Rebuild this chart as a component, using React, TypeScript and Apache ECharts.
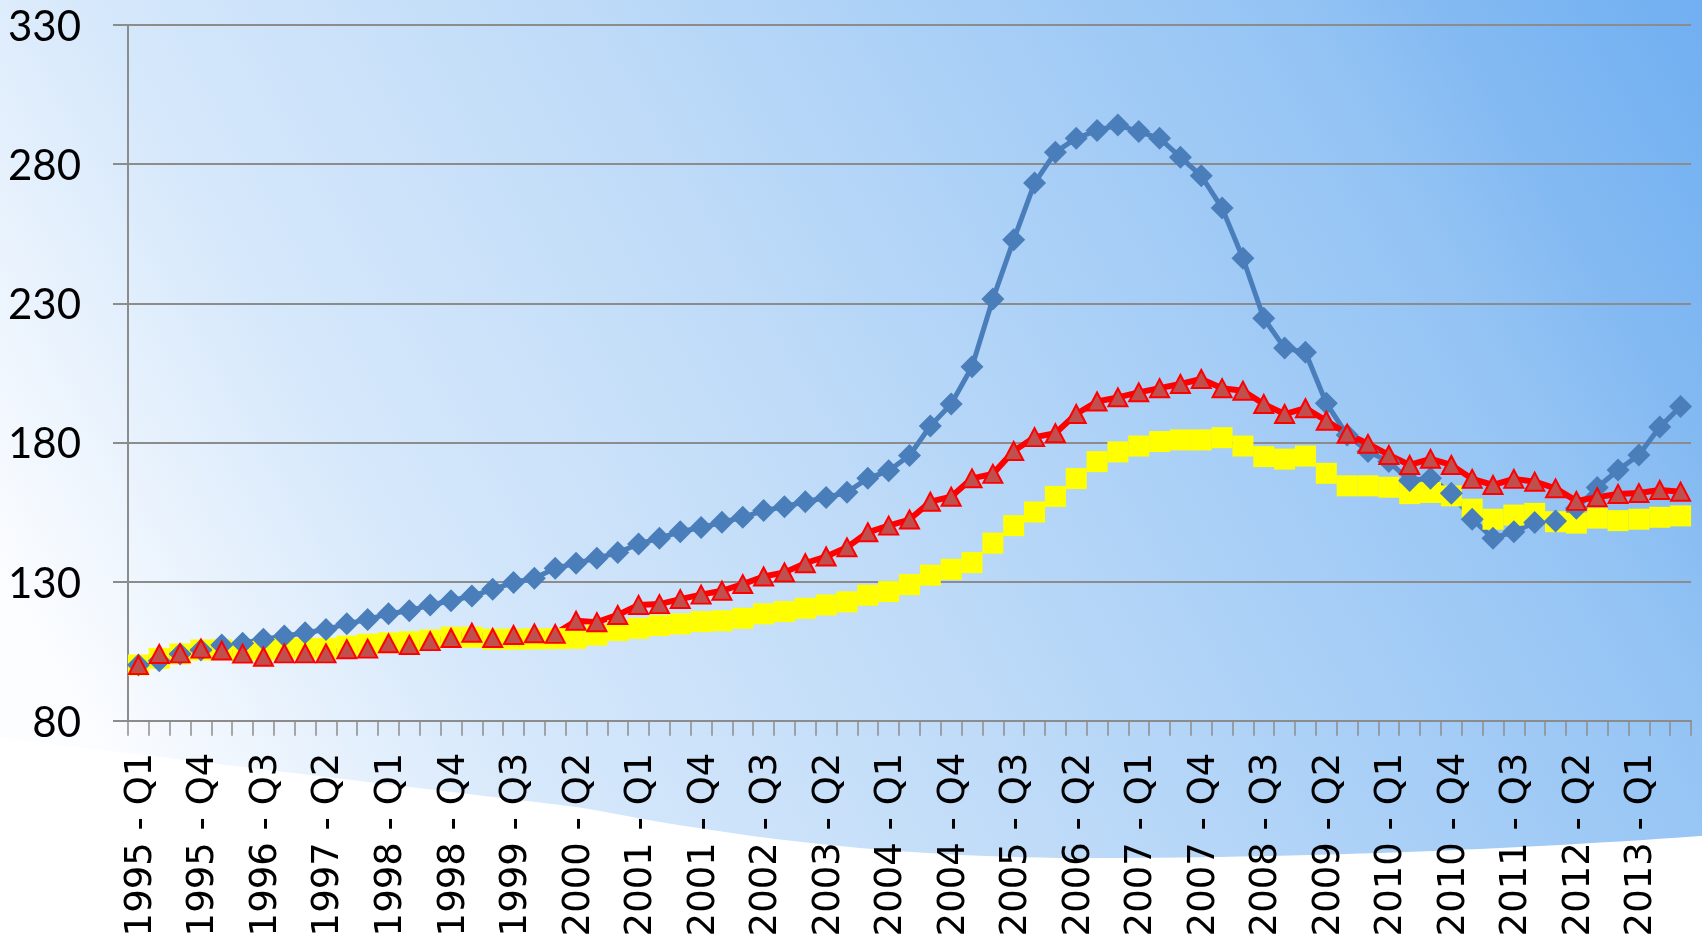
import React, { useEffect, useRef } from "react";
import * as echarts from "echarts";

const YEARS = [1995, 1996, 1997, 1998, 1999, 2000, 2001, 2002, 2003, 2004, 2005, 2006, 2007, 2008, 2009, 2010, 2011, 2012, 2013];
const QUARTERS = ["Q1", "Q2", "Q3", "Q4"];
const LAST_QUARTER_COUNT = 75; // 1995 - Q1 ... 2013 - Q3
const categories: string[] = YEARS.flatMap((y) => QUARTERS.map((q) => `${y} - ${q}`)).slice(0, LAST_QUARTER_COUNT);

// blue diamonds
const seriesBlue = [
  100, 101.5, 104, 105.4, 107.2, 107.8, 109.3, 110.4, 111.6, 112.8,
  114.8, 116.4, 118.4, 119.5, 121.6, 123.1, 124.8, 127.2, 129.7, 131.2,
  134.8, 136.6, 138.4, 140.4, 143.5, 145.6, 147.9, 149.4, 151.3, 153.1,
  155.5, 156.9, 158.7, 160.2, 162.1, 167.1, 169.8, 175.3, 185.9, 193.8,
  207.2, 231.5, 252.8, 273.2, 284.3, 289.3, 292.1, 294.1, 291.7, 289.3,
  282.5, 275.8, 264.2, 246.2, 224.6, 213.9, 212.4, 194.1, 182.7, 176.7,
  173.1, 166.3, 167.1, 161.7, 152.4, 145.6, 147.9, 151.2, 151.8, 156.3,
  163.8, 170.1, 175.5, 185.5, 192.9,
];

// red triangles
const seriesRed = [
  100, 104, 104.2, 105.9, 105.2, 104.1, 103, 104.2, 104.2, 104.2,
  105.7, 105.9, 107.8, 107.2, 108.6, 109.7, 111.6, 109.7, 110.8, 111.4,
  111.2, 115.9, 115.4, 118, 121.6, 121.9, 123.7, 125.3, 126.7, 129.1,
  131.8, 133.3, 136.6, 139, 142.3, 147.7, 150.1, 152.3, 158.7, 160.5,
  167.1, 168.7, 176.9, 181.9, 183.3, 190.2, 194.7, 196.2, 198, 199.5,
  201, 202.8, 199.5, 198.6, 193.8, 190.2, 192.3, 187.8, 183.1, 179.5,
  175.5, 171.9, 174.1, 171.9, 166.9, 164.7, 166.9, 165.9, 163.5, 159,
  160.3, 161.5, 161.8, 162.9, 162.3,
];

// yellow squares
const seriesYellow = [
  100, 102.4, 104, 105.4, 105.5, 104.8, 105.4, 106, 106, 106,
  106.8, 107.5, 108, 108.4, 109, 110, 110, 109.3, 109.3, 109.4,
  109.5, 109.6, 110.8, 112.4, 113.2, 114.2, 114.8, 115.6, 115.9, 116.8,
  118.4, 119.2, 120.4, 121.6, 122.7, 125.1, 126.4, 128.9, 132.3, 134.4,
  136.8, 143.8, 150.1, 155, 160.6, 167, 173.1, 176.6, 178.7, 180.3,
  180.9, 180.9, 181.7, 178.7, 174.9, 174, 175.1, 168.9, 164.4, 164.4,
  163.9, 161.6, 162, 160.8, 156, 152.4, 153.9, 154.5, 151.5, 151,
  152.8, 151.9, 152.4, 153.1, 153.6,
];

const Y_MIN = 80;
const Y_MAX = 330;
const Y_STEP = 50;

const W = 1702;
const H = 944;

function wavePoints(): number[][] {
  // decorative white swoosh at the bottom of the slide background
  const pts: number[][] = [];
  const lowX = 1085;
  const lowY = 858;
  const kL = 2.0e-4;
  const kR = 5.8e-5;
  const bendX = lowX - 500;
  const bendY = lowY - kL * 500 * 500;
  for (let x = -20; x <= W + 20; x += 20) {
    const d = x - lowX;
    let y: number;
    if (d >= 0) y = lowY - kR * d * d;
    else if (x >= bendX) y = lowY - kL * d * d;
    else y = bendY - 2 * kL * 500 * (bendX - x) * 0.6;
    pts.push([x, y]);
  }
  pts.push([W + 20, H + 20]);
  pts.push([-20, H + 20]);
  return pts;
}

export default function App() {
  const ref = useRef<HTMLDivElement>(null);

  useEffect(() => {
    document.body.style.margin = "0";
    if (!ref.current) return;
    const chart = echarts.init(ref.current, undefined, { renderer: "svg" });
    const gray = "#8c8c8c";
    // gradient axis tilted ~30 degrees: from lower-left (white) to upper-right (blue)
    const p0 = -472;
    const p1 = 1474;
    const ux = 0.866;
    const uy = -0.5;
    chart.setOption({
      animation: false,
      graphic: {
        elements: [
          {
            type: "rect",
            z: -20,
            silent: true,
            shape: { x: 0, y: 0, width: W, height: H },
            style: {
              fill: new echarts.graphic.LinearGradient(
                p0 * ux,
                p0 * uy,
                p1 * ux,
                p1 * uy,
                [
                  { offset: 0, color: "#ffffff" },
                  { offset: 0.1, color: "#fafcff" },
                  { offset: 0.18, color: "#eaf3fd" },
                  { offset: 0.28, color: "#d6e8fb" },
                  { offset: 0.49, color: "#bfdbf8" },
                  { offset: 0.62, color: "#aed2f7" },
                  { offset: 0.82, color: "#93c3f4" },
                  { offset: 0.88, color: "#84baf2" },
                  { offset: 1, color: "#70aff2" },
                ],
                true
              ),
            },
          },
          {
            type: "polygon",
            z: -19,
            silent: true,
            shape: { points: wavePoints() },
            style: { fill: "#ffffff" },
          },
        ],
      },
      grid: { left: 128, right: 11, top: 25, bottom: H - 720.7 },
      xAxis: {
        type: "category",
        data: categories,
        boundaryGap: true,
        axisLine: { show: true, lineStyle: { color: gray, width: 2 } },
        axisTick: { show: true, interval: 0, length: 15, lineStyle: { color: gray, width: 1.5 } },
        axisLabel: {
          interval: 2,
          rotate: 90,
          margin: 32,
          fontFamily: "DejaVu Sans",
          fontSize: 37,
          color: "#000",
        },
        splitLine: { show: false },
      },
      yAxis: {
        type: "value",
        min: Y_MIN,
        max: Y_MAX,
        interval: Y_STEP,
        axisLine: { show: true, lineStyle: { color: gray, width: 2 } },
        axisTick: { show: true, length: 15, lineStyle: { color: gray, width: 2 } },
        axisLabel: { margin: 47, fontFamily: "Lato", fontSize: 42, color: "#000" },
        splitLine: { show: true, lineStyle: { color: gray, width: 2 } },
      },
      series: [
        {
          name: "Series 3",
          type: "line",
          data: seriesYellow,
          symbol: "rect",
          symbolSize: [21, 21],
          showAllSymbol: true,
          itemStyle: { color: "#ffff00" },
          lineStyle: { color: "#ffff00", width: 0, opacity: 0 },
        },
        {
          name: "Series 1",
          type: "line",
          data: seriesBlue,
          symbol: "diamond",
          symbolSize: 23,
          showAllSymbol: true,
          itemStyle: { color: "#4a7ebb" },
          lineStyle: { color: "#4a7ebb", width: 5 },
        },
        {
          name: "Series 2",
          type: "line",
          data: seriesRed,
          symbol: "triangle",
          symbolSize: [19, 18],
          showAllSymbol: true,
          itemStyle: { color: "#c0504d", borderColor: "#ff0000", borderWidth: 2 },
          lineStyle: { color: "#ff0000", width: 6 },
        },
      ],
    });
    return () => chart.dispose();
  }, []);

  return <div ref={ref} style={{ position: "fixed", left: 0, top: 0, width: W, height: H }} />;
}
